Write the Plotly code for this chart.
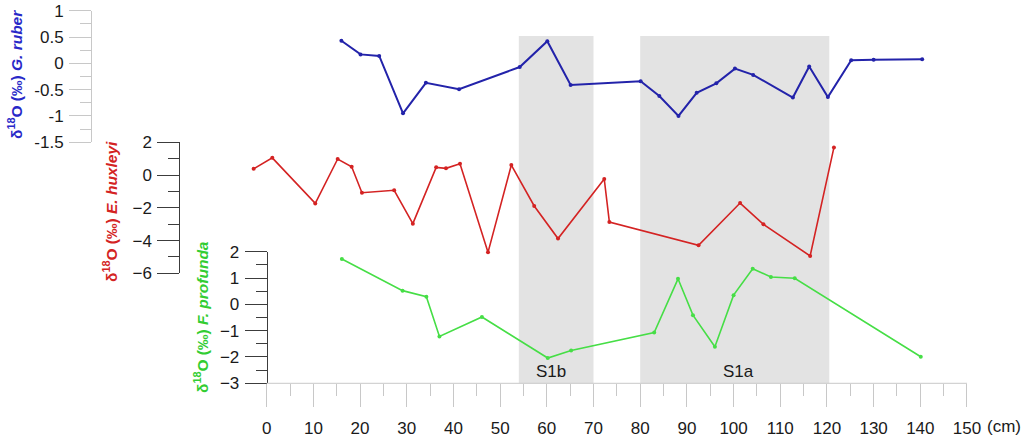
import plotly.graph_objects as go

# ---- data ----
ruber_depth = [16.0, 20.1, 24.1, 29.2, 34.1, 41.2, 54.2, 60.1, 65.1, 80.1, 84.1, 88.2, 92.1, 96.3,
               100.3, 104.2, 112.7, 116.2, 120.2, 125.2, 130.0, 140.4]
ruber_d18o = [0.43, 0.17, 0.14, -0.95, -0.37, -0.49, -0.07, 0.42, -0.41, -0.34, -0.62, -1.0, -0.56, -0.38,
              -0.10, -0.22, -0.65, -0.06, -0.64, 0.06, 0.07, 0.08]

huxleyi_depth = [-2.8, 1.2, 10.4, 15.2, 18.2, 20.4, 27.3, 31.3, 36.3, 38.4, 41.4, 47.4, 52.4, 57.3,
                 62.4, 72.3, 73.4, 92.5, 101.4, 106.4, 116.4, 121.5]
huxleyi_d18o = [0.38, 1.05, -1.73, 0.98, 0.51, -1.08, -0.93, -2.97, 0.47, 0.41, 0.69, -4.72, 0.61, -1.89,
                -3.88, -0.24, -2.87, -4.29, -1.71, -3.01, -4.94, 1.69]

profunda_depth = [16.1, 29.1, 34.2, 37.0, 46.1, 60.2, 65.2, 83.0, 88.1, 91.3, 96.0, 100.0, 104.1, 108.0,
                  113.1, 140.1]
profunda_d18o = [1.72, 0.52, 0.29, -1.22, -0.48, -2.04, -1.75, -1.07, 0.97, -0.41, -1.61, 0.35, 1.35, 1.04,
                 0.99, -1.99]

sapropels = [("S1b", 54, 70, 61), ("S1a", 80, 120.5, 101)]
x_ticks = list(range(0, 151, 10))
x_minor = list(range(5, 150, 10))

# ---- geometry (pixels -> paper) ----
W, H = 1024, 438
def px(x): return x / W
def py(y): return (H - y) / H

FONT = "Liberation Sans, Arial, sans-serif"
BLUE_LINE = "rgb(35,35,170)"
BLUE_TXT = "rgb(40,40,200)"
RED = "rgb(212,35,35)"
GREEN = "rgb(70,222,70)"
GREEN_TXT = "rgb(50,205,50)"
LIGHT = "rgb(200,200,200)"
DARK = "rgb(60,60,60)"

fig = go.Figure()
fig.add_trace(go.Scatter(x=ruber_depth, y=ruber_d18o, xaxis="x", yaxis="y", mode="lines+markers",
                         line=dict(color=BLUE_LINE, width=2), marker=dict(size=4, color=BLUE_LINE)))
fig.add_trace(go.Scatter(x=huxleyi_depth, y=huxleyi_d18o, xaxis="x", yaxis="y2", mode="lines+markers",
                         line=dict(color=RED, width=1.6), marker=dict(size=4, color=RED)))
fig.add_trace(go.Scatter(x=profunda_depth, y=profunda_d18o, xaxis="x", yaxis="y3", mode="lines+markers",
                         line=dict(color=GREEN, width=1.6), marker=dict(size=4, color=GREEN)))

x0px, x150px = 266.7, 967.0
scale = (x150px - x0px) / 150.0
xmin = -6.0
xdom0 = x0px + xmin * scale

tickfont = dict(family=FONT, size=17, color="#1a1a1a")

common_y = dict(anchor="free", showline=True, showgrid=False, zeroline=False, automargin=False,
                tickmode="array", ticks="outside", ticklen=22, tickfont=tickfont, ticklabelstandoff=2)

fig.update_layout(
    template="none",
    width=W, height=H, margin=dict(l=0, r=0, t=0, b=0, autoexpand=False),
    paper_bgcolor="white", plot_bgcolor="rgba(0,0,0,0)", showlegend=False,
    xaxis=dict(domain=[px(xdom0), px(x150px)], range=[xmin, 150], anchor="y3", automargin=False,
               showline=False, showgrid=False, zeroline=False,
               tickmode="array", tickvals=x_ticks, ticks="outside", ticklen=23, tickcolor=LIGHT, tickwidth=1,
               minor=dict(tickmode="array", tickvals=x_minor, ticks="outside", ticklen=12, tickcolor=LIGHT,
                          showgrid=False),
               tickfont=tickfont, ticklabelstandoff=6),
    yaxis=dict(common_y, domain=[py(142.3), py(10.7)], range=[-1.5, 1], position=px(91),
               linecolor=LIGHT, tickcolor=LIGHT,
               tickvals=[-1.5, -1, -0.5, 0, 0.5, 1], ticktext=["-1.5", "-1", "-0.5", "0", "0.5", "1"],
               minor=dict(tickmode="array", tickvals=[-1.25, -0.75, -0.25, 0.25, 0.75], ticks="outside",
                          ticklen=11, tickcolor=LIGHT, showgrid=False)),
    yaxis2=dict(common_y, domain=[py(273.3), py(142.3)], range=[-6, 2], position=px(179.3),
                linecolor=DARK, tickcolor=DARK, tickvals=[-6, -4, -2, 0, 2],
                minor=dict(tickmode="array", tickvals=[-5, -3, -1, 1], ticks="outside", ticklen=11,
                           tickcolor=DARK, showgrid=False)),
    yaxis3=dict(common_y, domain=[py(383.3), py(251.7)], range=[-3, 2], position=px(x0px),
                linecolor=DARK, tickcolor=DARK, tickvals=[-3, -2, -1, 0, 1, 2],
                minor=dict(tickmode="array", tickvals=[-2.5, -1.5, -0.5, 0.5, 1.5], ticks="outside",
                           ticklen=11, tickcolor=DARK, showgrid=False)),
)

shapes = []
for name, a, b, mid in sapropels:
    shapes.append(dict(type="rect", xref="x", yref="paper", x0=a, x1=b, y0=py(383.3), y1=py(36),
                       fillcolor="rgb(227,227,227)", line=dict(width=0), layer="below"))
shapes.append(dict(type="line", xref="x", yref="paper", x0=0, x1=150, y0=py(383.3), y1=py(383.3),
                   line=dict(color=LIGHT, width=1)))
fig.update_layout(shapes=shapes)

ann = []
for name, a, b, mid in sapropels:
    ann.append(dict(x=mid, y=py(371), xref="x", yref="paper", text=name, showarrow=False,
                    font=dict(family=FONT, size=17, color="#1a1a1a"), xanchor="center", yanchor="middle"))
ann.append(dict(x=px(985), y=py(426), xref="paper", yref="paper", text="(cm)", showarrow=False,
                font=dict(family=FONT, size=17, color="#1a1a1a"), xanchor="left", yanchor="middle"))
titles = [
    ("<b>δ<sup>18</sup>O (‰) <i>G. ruber</i></b>", 15, 75, BLUE_TXT),
    ("<b>δ<sup>18</sup>O (‰) <i>E. huxleyi</i></b>", 110, 212, RED),
    ("<b>δ<sup>18</sup>O (‰) <i>F. profunda</i></b>", 201, 317, GREEN_TXT),
]
for t, x, y, c in titles:
    ann.append(dict(x=px(x), y=py(y), xref="paper", yref="paper", text=t, textangle=-90, showarrow=False,
                    font=dict(family=FONT, size=15.5, color=c), xanchor="center", yanchor="middle"))
fig.update_layout(annotations=ann)

fig.write_html("out.html", config={"displayModeBar": False},
               post_script="document.body.style.margin='0';document.body.style.overflow='hidden';")
